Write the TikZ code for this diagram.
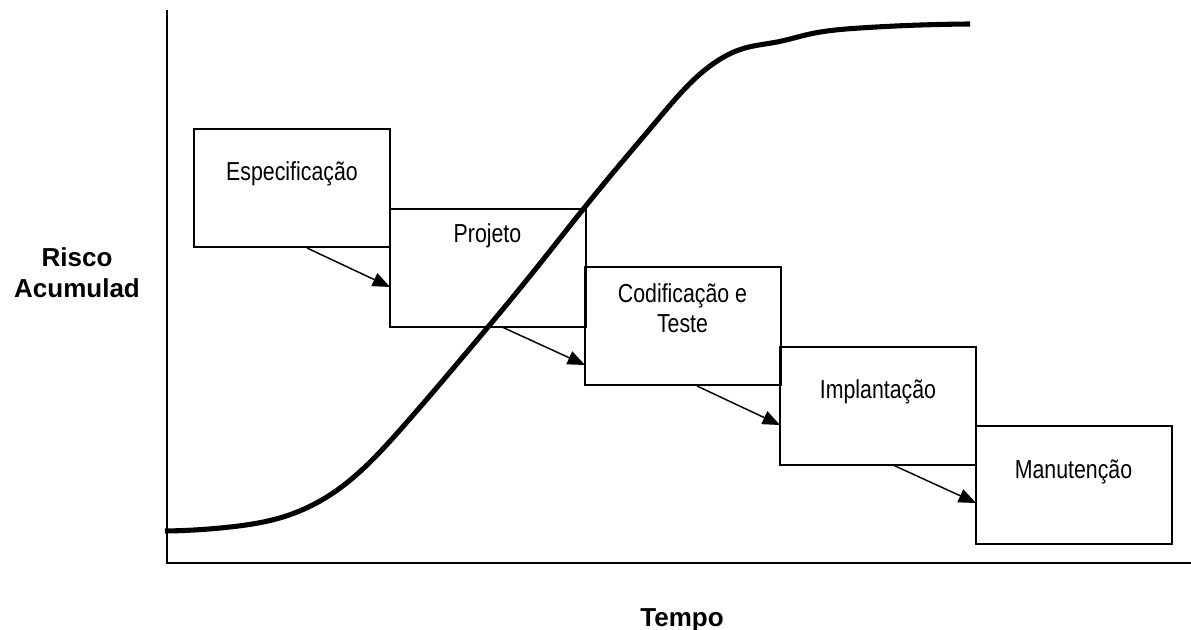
\documentclass[tikz,border=0pt]{standalone}
\usepackage{fontspec}
\setmainfont{Liberation Sans}
\newfontfamily\narrowfont[FakeStretch=0.82]{Liberation Sans}
\usetikzlibrary{arrows.meta,hobby}

\begin{document}
\begin{tikzpicture}[x=0.75pt,y=-0.75pt,
  stage/.style={draw, line width=1.5pt, inner sep=0pt, outer sep=0pt,
    minimum width=147pt, minimum height=88.5pt},
  stagetext/.style={anchor=base, inner sep=0pt, align=center,
    font=\narrowfont\fontsize{19.5}{22.5}\selectfont},
  axislabel/.style={inner sep=0pt, align=center,
    font=\bfseries\fontsize{19.5}{23.25}\selectfont},
  axis/.style={line width=1.5pt},
  flow/.style={line width=1.1pt, -{Triangle[length=13pt,width=10.5pt]}},
  risk/.style={line width=3.8pt, use Hobby shortcut},
]
\useasboundingbox (0,0) rectangle (1191,630);

% axes
\coordinate (origin) at (167,563);
\coordinate (ytop) at (167,10);
\coordinate (xend) at (1191,563);
\draw[axis] (ytop) -- (origin) -- (xend);

% axis labels
\node[axislabel, anchor=base] (risco) at (77,267) {Risco};
\node[axislabel, anchor=base] (acum) at (77,298) {Acumulad};
\node[axislabel, anchor=base] (tempo) at (682,626) {Tempo};

% stages of the cascade
\node[stage] (spec) at (292,188.5) {};
\node[stage] (proj) at (487.5,268) {};
\node[stage] (cod)  at (682.5,326.5) {};
\node[stage] (impl) at (878,406) {};
\node[stage] (man)  at (1073.5,484.5) {};

\node[stagetext] (specT) at (292,181) {Especificação};
\node[stagetext] (projT) at (487.5,243) {Projeto};
\node[stagetext] (codT)  at (682.5,303) {Codificação e};
\node[stagetext] (codT2) at (682.5,333) {Teste};
\node[stagetext] (implT) at (878,399) {Implantação};
\node[stagetext] (manT)  at (1073.5,478) {Manutenção};

% cumulative risk curve
\draw[risk] (165,531) .. (230,527) .. (283,517) .. (333,493) .. (400,430)
  .. (467,352) .. (530,276) .. (593,197) .. (660,117) .. (710,66)
  .. (745,48) .. (777,42) .. (810,34) .. (860,28) .. (970,24);

% hand-offs between stages
\coordinate (f1s) at (307,248);  \coordinate (f1e) at (390,287);
\coordinate (f2s) at (502,327);  \coordinate (f2e) at (585,365);
\coordinate (f3s) at (697,386);  \coordinate (f3e) at (780,425);
\coordinate (f4s) at (893,465);  \coordinate (f4e) at (976,503);
\draw[flow] (f1s) -- (f1e);
\draw[flow] (f2s) -- (f2e);
\draw[flow] (f3s) -- (f3e);
\draw[flow] (f4s) -- (f4e);
\end{tikzpicture}
\end{document}
